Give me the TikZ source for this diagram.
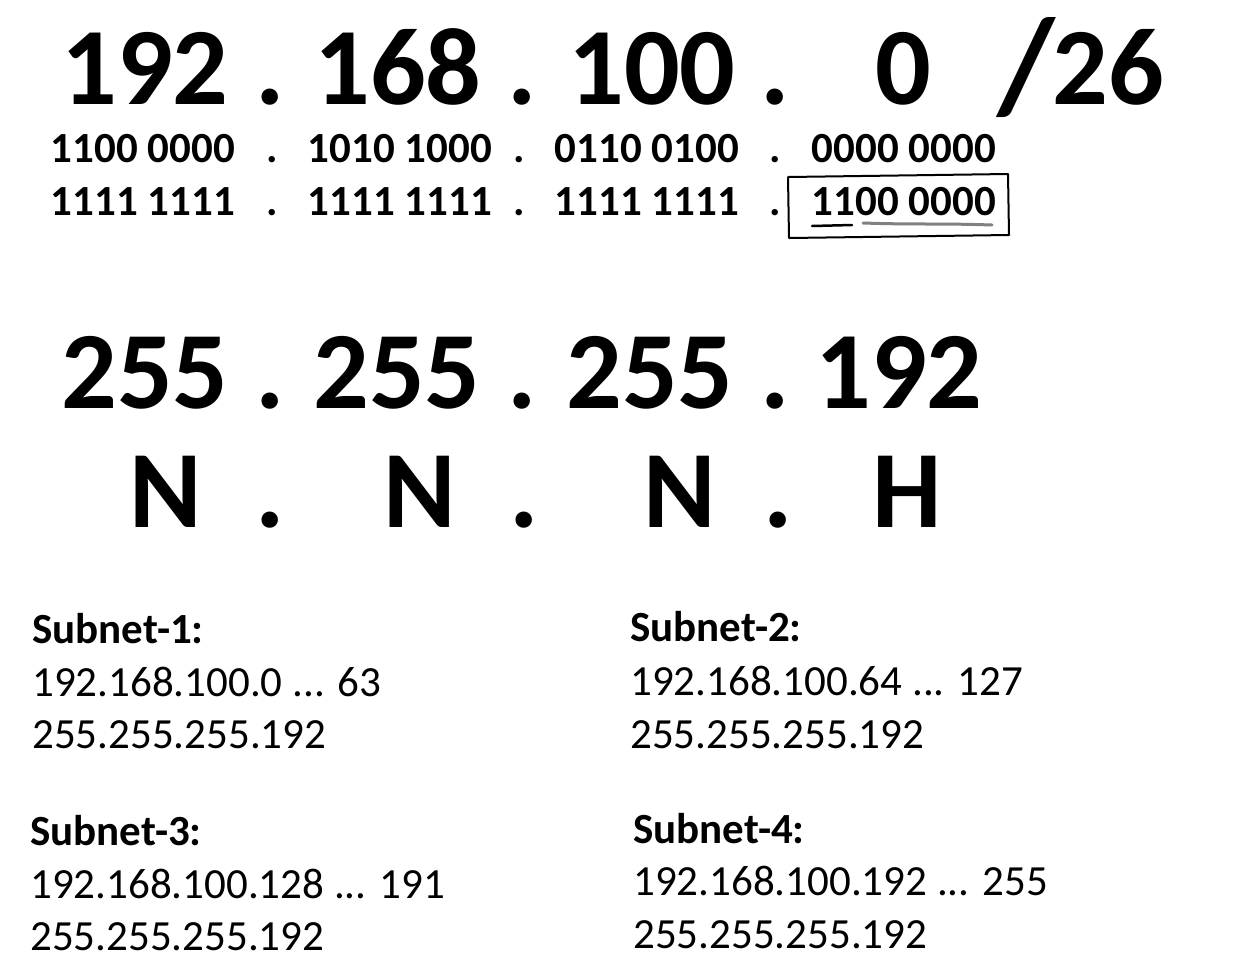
\documentclass[tikz,border=0pt]{standalone}
\usepackage{fontspec}
\setmainfont{Carlito}
\usepackage{xcolor}
\definecolor{lgray}{RGB}{128,128,128}
\usetikzlibrary{positioning}
\tikzstyle{Big} = [
inner sep=0pt,
anchor=base,
font=\fontsize{110}{110}\selectfont\bfseries]
\tikzstyle{Bits} = [
inner sep=0pt,
anchor=base,
font=\fontsize{43}{43}\selectfont\bfseries]
\tikzstyle{Head} = [
inner sep=0pt,
anchor=base west,
font=\fontsize{43}{43}\selectfont\bfseries]
\tikzstyle{Line} = [
inner sep=0pt,
anchor=base west,
font=\fontsize{43}{43}\selectfont]

\begin{document}
\begin{tikzpicture}[x=1pt, y=-1pt]
    \useasboundingbox (0,0) rectangle (1250,970);

    % address /26
    \node [Big] (a1) at (145,104) {192};
    \node [Big] (a2) at (398,104) {168};
    \node [Big] (a3) at (652,104) {100};
    \node [Big] (a4) at (903,104) {0};
    \node [Big, font=\fontsize{134}{134}\selectfont\bfseries] (sl) at (1026,111) {/};
    \node [Big] (pre) at (1108,104) {26};
    \foreach \x/\n in {270/1, 522/2, 775/3}
        \node [Big] (ad\n) at (\x,104) {.};

    % binary rows
    \node [Bits] (b1) at (143,162) {1100 0000};
    \node [Bits] (b2) at (400,162) {1010 1000};
    \node [Bits] (b3) at (647,162) {0110 0100};
    \node [Bits] (b4) at (904,162) {0000 0000};
    \node [Bits] (m1) at (143,215) {1111 1111};
    \node [Bits] (m2) at (400,215) {1111 1111};
    \node [Bits] (m3) at (647,215) {1111 1111};
    \node [Bits] (m4) at (904,215) {1100 0000};
    \foreach \x/\n in {272/1, 519/2, 775/3} {
        \node [Bits] (bd\n) at (\x,162) {.};
        \node [Bits] (md\n) at (\x,215) {.};
    }

    % box around last octet
    \draw [line width=2pt, line join=round]
        (788,177) -- (1008,174) -- (1009,235) -- (789,238) -- cycle;
    \draw [line width=2.5pt, line cap=round] (812,226) -- (852,225);
    \draw [line width=3pt, lgray, line cap=round]
        (863,223) to [out=-2, in=178] (992,225);

    % mask
    \node [Big] (k1) at (145,408) {255};
    \node [Big] (k2) at (397,408) {255};
    \node [Big] (k3) at (650,408) {255};
    \node [Big] (k4) at (899,408) {192};
    \foreach \x/\n in {270/1, 522/2, 775/3}
        \node [Big] (kd\n) at (\x,408) {.};

    % N . N . N . H
    \node [Big] (n1) at (166,527) {N};
    \node [Big] (n2) at (420,527) {N};
    \node [Big] (n3) at (680,527) {N};
    \node [Big] (h4) at (907,527) {H};
    \foreach \x/\n in {270/1, 524/2, 778/3}
        \node [Big] (nd\n) at (\x,527) {.};

    % subnets
    \node [Head] (s1) at (32,643) {Subnet-1:};
    \node [Line, below=53pt of s1.base west, anchor=base west] (s1a) {192.168.100.0 ... 63};
    \node [Line, below=52pt of s1a.base west, anchor=base west] (s1b) {255.255.255.192};

    \node [Head] (s2) at (630,641) {Subnet-2:};
    \node [Line, below=54pt of s2.base west, anchor=base west] (s2a) {192.168.100.64 ... 127};
    \node [Line, below=53pt of s2a.base west, anchor=base west] (s2b) {255.255.255.192};

    \node [Head] (s3) at (30,845) {Subnet-3:};
    \node [Line, below=53pt of s3.base west, anchor=base west] (s3a) {192.168.100.128 ... 191};
    \node [Line, below=52pt of s3a.base west, anchor=base west] (s3b) {255.255.255.192};

    \node [Head] (s4) at (633,843) {Subnet-4:};
    \node [Line, below=52pt of s4.base west, anchor=base west] (s4a) {192.168.100.192 ... 255};
    \node [Line, below=53pt of s4a.base west, anchor=base west] (s4b) {255.255.255.192};
\end{tikzpicture}
\end{document}
